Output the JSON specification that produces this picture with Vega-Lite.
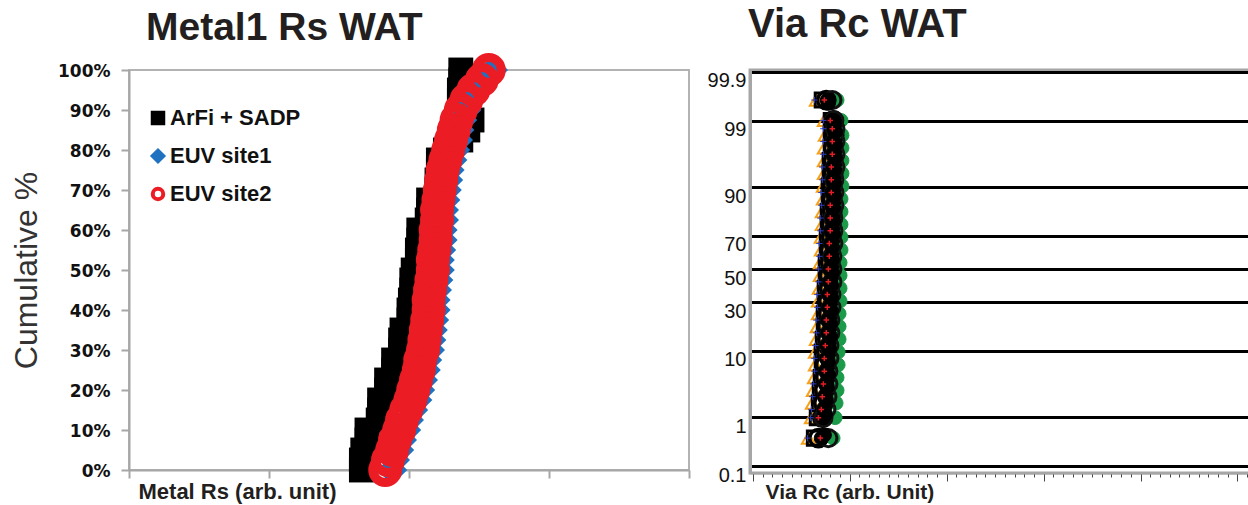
{
"$schema":"https://vega.github.io/schema/vega-lite/v6.json",
"background":"white",
"padding":{"left":9,"top":3,"right":0,"bottom":0},
"bounds":"flush",
"config":{"view":{"stroke":null},"font":"Liberation Sans","concat":{"spacing":61}},
"resolve":{"scale":{"shape":"independent","fill":"independent","stroke":"independent","size":"independent","strokeWidth":"independent","x":"independent","y":"independent"},"legend":{"shape":"independent","fill":"independent","stroke":"independent"}},
"datasets":{
"metal":[
{"s":"ArFi + SADP","y":0,"x":1.66},{"s":"ArFi + SADP","y":2.5,"x":1.66},{"s":"ArFi + SADP","y":5,"x":1.67},{"s":"ArFi + SADP","y":7.5,"x":1.70},{"s":"ArFi + SADP","y":10,"x":1.70},
{"s":"ArFi + SADP","y":12.5,"x":1.78},{"s":"ArFi + SADP","y":15,"x":1.79},{"s":"ArFi + SADP","y":17.5,"x":1.79},{"s":"ArFi + SADP","y":20,"x":1.84},{"s":"ArFi + SADP","y":22.5,"x":1.84},
{"s":"ArFi + SADP","y":25,"x":1.89},{"s":"ArFi + SADP","y":27.5,"x":1.89},{"s":"ArFi + SADP","y":30,"x":1.94},{"s":"ArFi + SADP","y":32.5,"x":1.94},{"s":"ArFi + SADP","y":35,"x":1.95},
{"s":"ArFi + SADP","y":37.5,"x":2.00},{"s":"ArFi + SADP","y":40,"x":2.00},{"s":"ArFi + SADP","y":42.5,"x":2.01},{"s":"ArFi + SADP","y":45,"x":2.02},{"s":"ArFi + SADP","y":47.5,"x":2.02},
{"s":"ArFi + SADP","y":50,"x":2.03},{"s":"ArFi + SADP","y":52.5,"x":2.06},{"s":"ArFi + SADP","y":55,"x":2.06},{"s":"ArFi + SADP","y":57.5,"x":2.07},{"s":"ArFi + SADP","y":60,"x":2.07},
{"s":"ArFi + SADP","y":62.5,"x":2.13},{"s":"ArFi + SADP","y":65,"x":2.14},{"s":"ArFi + SADP","y":67.5,"x":2.14},{"s":"ArFi + SADP","y":70,"x":2.20},{"s":"ArFi + SADP","y":72.5,"x":2.20},
{"s":"ArFi + SADP","y":75,"x":2.21},{"s":"ArFi + SADP","y":77.5,"x":2.21},{"s":"ArFi + SADP","y":80,"x":2.26},{"s":"ArFi + SADP","y":82.5,"x":2.37},{"s":"ArFi + SADP","y":85,"x":2.42},
{"s":"ArFi + SADP","y":87.5,"x":2.45},{"s":"ArFi + SADP","y":90,"x":2.41},{"s":"ArFi + SADP","y":92.5,"x":2.36},{"s":"ArFi + SADP","y":95,"x":2.36},{"s":"ArFi + SADP","y":97.5,"x":2.37},
{"s":"ArFi + SADP","y":100,"x":2.37},
{"s":"EUV site1","y":0,"x":1.88},{"s":"EUV site1","y":2.5,"x":1.90},{"s":"EUV site1","y":5,"x":1.93},{"s":"EUV site1","y":7.5,"x":1.95},{"s":"EUV site1","y":10,"x":1.98},
{"s":"EUV site1","y":12.5,"x":2.00},{"s":"EUV site1","y":15,"x":2.03},{"s":"EUV site1","y":17.5,"x":2.06},{"s":"EUV site1","y":20,"x":2.08},{"s":"EUV site1","y":22.5,"x":2.10},
{"s":"EUV site1","y":25,"x":2.12},{"s":"EUV site1","y":27.5,"x":2.13},{"s":"EUV site1","y":30,"x":2.15},{"s":"EUV site1","y":32.5,"x":2.16},{"s":"EUV site1","y":35,"x":2.17},
{"s":"EUV site1","y":37.5,"x":2.18},{"s":"EUV site1","y":40,"x":2.19},{"s":"EUV site1","y":42.5,"x":2.19},{"s":"EUV site1","y":45,"x":2.20},{"s":"EUV site1","y":47.5,"x":2.21},
{"s":"EUV site1","y":50,"x":2.22},{"s":"EUV site1","y":52.5,"x":2.22},{"s":"EUV site1","y":55,"x":2.23},{"s":"EUV site1","y":57.5,"x":2.24},{"s":"EUV site1","y":60,"x":2.24},
{"s":"EUV site1","y":62.5,"x":2.25},{"s":"EUV site1","y":65,"x":2.25},{"s":"EUV site1","y":67.5,"x":2.26},{"s":"EUV site1","y":70,"x":2.27},{"s":"EUV site1","y":72.5,"x":2.28},
{"s":"EUV site1","y":75,"x":2.29},{"s":"EUV site1","y":77.5,"x":2.31},{"s":"EUV site1","y":80,"x":2.33},{"s":"EUV site1","y":82.5,"x":2.35},{"s":"EUV site1","y":85,"x":2.36},
{"s":"EUV site1","y":87.5,"x":2.38},{"s":"EUV site1","y":90,"x":2.41},{"s":"EUV site1","y":92.5,"x":2.44},{"s":"EUV site1","y":95,"x":2.49},{"s":"EUV site1","y":97.5,"x":2.55},
{"s":"EUV site1","y":100,"x":2.60},
{"s":"EUV site2","y":0,"x":1.83},{"s":"EUV site2","y":2.5,"x":1.85},{"s":"EUV site2","y":5,"x":1.88},{"s":"EUV site2","y":7.5,"x":1.90},{"s":"EUV site2","y":10,"x":1.93},
{"s":"EUV site2","y":12.5,"x":1.95},{"s":"EUV site2","y":15,"x":1.98},{"s":"EUV site2","y":17.5,"x":2.01},{"s":"EUV site2","y":20,"x":2.03},{"s":"EUV site2","y":22.5,"x":2.05},
{"s":"EUV site2","y":25,"x":2.07},{"s":"EUV site2","y":27.5,"x":2.08},{"s":"EUV site2","y":30,"x":2.10},{"s":"EUV site2","y":32.5,"x":2.11},{"s":"EUV site2","y":35,"x":2.12},
{"s":"EUV site2","y":37.5,"x":2.13},{"s":"EUV site2","y":40,"x":2.14},{"s":"EUV site2","y":42.5,"x":2.14},{"s":"EUV site2","y":45,"x":2.15},{"s":"EUV site2","y":47.5,"x":2.16},
{"s":"EUV site2","y":50,"x":2.17},{"s":"EUV site2","y":52.5,"x":2.17},{"s":"EUV site2","y":55,"x":2.18},{"s":"EUV site2","y":57.5,"x":2.19},{"s":"EUV site2","y":60,"x":2.19},
{"s":"EUV site2","y":62.5,"x":2.20},{"s":"EUV site2","y":65,"x":2.20},{"s":"EUV site2","y":67.5,"x":2.21},{"s":"EUV site2","y":70,"x":2.22},{"s":"EUV site2","y":72.5,"x":2.23},
{"s":"EUV site2","y":75,"x":2.24},{"s":"EUV site2","y":77.5,"x":2.26},{"s":"EUV site2","y":80,"x":2.28},{"s":"EUV site2","y":82.5,"x":2.30},{"s":"EUV site2","y":85,"x":2.32},
{"s":"EUV site2","y":87.5,"x":2.34},{"s":"EUV site2","y":90,"x":2.37},{"s":"EUV site2","y":92.5,"x":2.41},{"s":"EUV site2","y":95,"x":2.46},{"s":"EUV site2","y":97.5,"x":2.52},
{"s":"EUV site2","y":100,"x":2.57}
],
"via":[
{"v":"t","z":-2.65,"x":5.73},{"v":"t","z":-2.33,"x":6.04},{"v":"t","z":-2.1,"x":6.14},{"v":"t","z":-1.9,"x":6.24},{"v":"t","z":-1.7,"x":6.35},{"v":"t","z":-1.5,"x":6.45},{"v":"t","z":-1.3,"x":6.45},{"v":"t","z":-1.1,"x":6.55},{"v":"t","z":-0.9,"x":6.65},{"v":"t","z":-0.7,"x":6.76},{"v":"t","z":-0.5,"x":6.76},{"v":"t","z":-0.3,"x":6.86},{"v":"t","z":-0.1,"x":6.96},{"v":"t","z":0.1,"x":6.96},{"v":"t","z":0.3,"x":7.06},{"v":"t","z":0.5,"x":7.06},{"v":"t","z":0.7,"x":7.16},{"v":"t","z":0.9,"x":7.16},{"v":"t","z":1.1,"x":7.27},{"v":"t","z":1.3,"x":7.27},{"v":"t","z":1.5,"x":7.37},{"v":"t","z":1.7,"x":7.37},{"v":"t","z":1.9,"x":7.37},{"v":"t","z":2.1,"x":7.47},{"v":"t","z":2.33,"x":7.37},{"v":"t","z":2.65,"x":6.55},
{"v":"g","z":-2.65,"x":8.28},{"v":"g","z":-2.33,"x":8.49},{"v":"g","z":-2.1,"x":8.59},{"v":"g","z":-1.9,"x":8.69},{"v":"g","z":-1.7,"x":8.69},{"v":"g","z":-1.5,"x":8.80},{"v":"g","z":-1.3,"x":8.80},{"v":"g","z":-1.1,"x":8.90},{"v":"g","z":-0.9,"x":8.90},{"v":"g","z":-0.7,"x":8.90},{"v":"g","z":-0.5,"x":9.00},{"v":"g","z":-0.3,"x":9.00},{"v":"g","z":-0.1,"x":9.00},{"v":"g","z":0.1,"x":9.00},{"v":"g","z":0.3,"x":9.10},{"v":"g","z":0.5,"x":9.10},{"v":"g","z":0.7,"x":9.10},{"v":"g","z":0.9,"x":9.10},{"v":"g","z":1.1,"x":9.10},{"v":"g","z":1.3,"x":9.20},{"v":"g","z":1.5,"x":9.20},{"v":"g","z":1.7,"x":9.20},{"v":"g","z":1.9,"x":9.20},{"v":"g","z":2.1,"x":9.20},{"v":"g","z":2.33,"x":9.10},{"v":"g","z":2.65,"x":8.69},
{"v":"q","z":-2.65,"x":6.35},{"v":"q","z":-2.33,"x":6.65},{"v":"q","z":-2.1,"x":6.86},{"v":"q","z":-1.9,"x":6.96},{"v":"q","z":-1.7,"x":7.06},{"v":"q","z":-1.5,"x":7.16},{"v":"q","z":-1.3,"x":7.16},{"v":"q","z":-1.1,"x":7.27},{"v":"q","z":-0.9,"x":7.37},{"v":"q","z":-0.7,"x":7.37},{"v":"q","z":-0.5,"x":7.47},{"v":"q","z":-0.3,"x":7.47},{"v":"q","z":-0.1,"x":7.57},{"v":"q","z":0.1,"x":7.57},{"v":"q","z":0.3,"x":7.68},{"v":"q","z":0.5,"x":7.68},{"v":"q","z":0.7,"x":7.78},{"v":"q","z":0.9,"x":7.78},{"v":"q","z":1.1,"x":7.88},{"v":"q","z":1.3,"x":7.88},{"v":"q","z":1.5,"x":7.98},{"v":"q","z":1.7,"x":7.98},{"v":"q","z":1.9,"x":8.09},{"v":"q","z":2.1,"x":8.09},{"v":"q","z":2.33,"x":8.09},{"v":"q","z":2.65,"x":7.16},
{"v":"a","z":-2.65,"x":6.76},{"v":"a","z":-2.33,"x":7.16},{"v":"a","z":-2.1,"x":7.27},{"v":"a","z":-1.9,"x":7.37},{"v":"a","z":-1.7,"x":7.47},{"v":"a","z":-1.5,"x":7.47},{"v":"a","z":-1.3,"x":7.57},{"v":"a","z":-1.1,"x":7.68},{"v":"a","z":-0.9,"x":7.68},{"v":"a","z":-0.7,"x":7.78},{"v":"a","z":-0.5,"x":7.78},{"v":"a","z":-0.3,"x":7.88},{"v":"a","z":-0.1,"x":7.88},{"v":"a","z":0.1,"x":7.98},{"v":"a","z":0.3,"x":7.98},{"v":"a","z":0.5,"x":8.09},{"v":"a","z":0.7,"x":8.09},{"v":"a","z":0.9,"x":8.19},{"v":"a","z":1.1,"x":8.19},{"v":"a","z":1.3,"x":8.19},{"v":"a","z":1.5,"x":8.29},{"v":"a","z":1.7,"x":8.29},{"v":"a","z":1.9,"x":8.29},{"v":"a","z":2.1,"x":8.39},{"v":"a","z":2.33,"x":8.29},{"v":"a","z":2.65,"x":7.57},
{"v":"b","z":-2.65,"x":7.78},{"v":"b","z":-2.33,"x":7.27},{"v":"b","z":-2.2,"x":7.57},{"v":"b","z":-2.0,"x":7.68},{"v":"b","z":-1.8,"x":7.78},{"v":"b","z":-1.6,"x":7.78},{"v":"b","z":-1.4,"x":7.88},{"v":"b","z":-1.2,"x":7.88},{"v":"b","z":-1.0,"x":7.98},{"v":"b","z":-0.8,"x":7.98},{"v":"b","z":-0.6,"x":8.09},{"v":"b","z":-0.4,"x":8.09},{"v":"b","z":-0.2,"x":8.19},{"v":"b","z":0,"x":8.19},{"v":"b","z":0.2,"x":8.19},{"v":"b","z":0.4,"x":8.29},{"v":"b","z":0.6,"x":8.29},{"v":"b","z":0.8,"x":8.29},{"v":"b","z":1.0,"x":8.39},{"v":"b","z":1.2,"x":8.39},{"v":"b","z":1.4,"x":8.39},{"v":"b","z":1.6,"x":8.50},{"v":"b","z":1.8,"x":8.50},{"v":"b","z":2.0,"x":8.50},{"v":"b","z":2.2,"x":8.50},{"v":"b","z":2.33,"x":8.39},{"v":"b","z":2.65,"x":8.19},
{"v":"c","z":-2.6,"x":7.37},{"v":"c","z":-2.28,"x":7.47},{"v":"c","z":-2.05,"x":7.57},{"v":"c","z":-1.85,"x":7.68},{"v":"c","z":-1.65,"x":7.78},{"v":"c","z":-1.45,"x":7.78},{"v":"c","z":-1.25,"x":7.88},{"v":"c","z":-1.05,"x":7.98},{"v":"c","z":-0.85,"x":7.98},{"v":"c","z":-0.65,"x":8.09},{"v":"c","z":-0.45,"x":8.09},{"v":"c","z":-0.25,"x":8.09},{"v":"c","z":-0.05,"x":8.19},{"v":"c","z":0.15,"x":8.19},{"v":"c","z":0.35,"x":8.19},{"v":"c","z":0.55,"x":8.29},{"v":"c","z":0.75,"x":8.29},{"v":"c","z":0.95,"x":8.29},{"v":"c","z":1.15,"x":8.39},{"v":"c","z":1.35,"x":8.39},{"v":"c","z":1.55,"x":8.39},{"v":"c","z":1.75,"x":8.50},{"v":"c","z":1.95,"x":8.50},{"v":"c","z":2.15,"x":8.50},{"v":"c","z":2.28,"x":8.39},{"v":"c","z":2.6,"x":7.78},
{"v":"d","z":-2.65,"x":7.06},{"v":"d","z":-2.33,"x":7.27},{"v":"d","z":-2.2,"x":7.37},{"v":"d","z":-2.0,"x":7.47},{"v":"d","z":-1.8,"x":7.57},{"v":"d","z":-1.6,"x":7.57},{"v":"d","z":-1.4,"x":7.68},{"v":"d","z":-1.2,"x":7.68},{"v":"d","z":-1.0,"x":7.78},{"v":"d","z":-0.8,"x":7.78},{"v":"d","z":-0.6,"x":7.88},{"v":"d","z":-0.4,"x":7.88},{"v":"d","z":-0.2,"x":7.98},{"v":"d","z":0,"x":7.98},{"v":"d","z":0.2,"x":8.09},{"v":"d","z":0.4,"x":8.09},{"v":"d","z":0.6,"x":8.09},{"v":"d","z":0.8,"x":8.19},{"v":"d","z":1.0,"x":8.19},{"v":"d","z":1.2,"x":8.19},{"v":"d","z":1.4,"x":8.29},{"v":"d","z":1.6,"x":8.29},{"v":"d","z":1.8,"x":8.29},{"v":"d","z":2.0,"x":8.29},{"v":"d","z":2.2,"x":8.39},{"v":"d","z":2.33,"x":8.19},{"v":"d","z":2.65,"x":7.68},
{"v":"p","z":-2.65,"x":5.63},{"v":"p","z":-2.33,"x":5.94},{"v":"p","z":-2.2,"x":6.04},{"v":"p","z":-2.0,"x":6.14},{"v":"p","z":-1.8,"x":6.24},{"v":"p","z":-1.6,"x":6.35},{"v":"p","z":-1.4,"x":6.35},{"v":"p","z":-1.2,"x":6.45},{"v":"p","z":-1.0,"x":6.55},{"v":"p","z":-0.8,"x":6.55},{"v":"p","z":-0.6,"x":6.65},{"v":"p","z":-0.4,"x":6.65},{"v":"p","z":-0.2,"x":6.76},{"v":"p","z":0,"x":6.76},{"v":"p","z":0.2,"x":6.86},{"v":"p","z":0.4,"x":6.86},{"v":"p","z":0.6,"x":6.96},{"v":"p","z":0.8,"x":6.96},{"v":"p","z":1.0,"x":7.06},{"v":"p","z":1.2,"x":7.06},{"v":"p","z":1.4,"x":7.16},{"v":"p","z":1.6,"x":7.16},{"v":"p","z":1.8,"x":7.27},{"v":"p","z":2.0,"x":7.27},{"v":"p","z":2.2,"x":7.27},{"v":"p","z":2.33,"x":7.27},{"v":"p","z":2.65,"x":6.35},
{"v":"r","z":-2.65,"x":6.96},{"v":"r","z":-2.33,"x":6.76},{"v":"r","z":-2.2,"x":7.06},{"v":"r","z":-2.0,"x":7.16},{"v":"r","z":-1.8,"x":7.27},{"v":"r","z":-1.6,"x":7.37},{"v":"r","z":-1.4,"x":7.37},{"v":"r","z":-1.2,"x":7.47},{"v":"r","z":-1.0,"x":7.57},{"v":"r","z":-0.8,"x":7.57},{"v":"r","z":-0.6,"x":7.68},{"v":"r","z":-0.4,"x":7.68},{"v":"r","z":-0.2,"x":7.78},{"v":"r","z":0,"x":7.78},{"v":"r","z":0.2,"x":7.88},{"v":"r","z":0.4,"x":7.88},{"v":"r","z":0.6,"x":7.98},{"v":"r","z":0.8,"x":7.98},{"v":"r","z":1.0,"x":7.98},{"v":"r","z":1.2,"x":8.09},{"v":"r","z":1.4,"x":8.09},{"v":"r","z":1.6,"x":8.09},{"v":"r","z":1.8,"x":8.19},{"v":"r","z":2.0,"x":8.19},{"v":"r","z":2.2,"x":8.19},{"v":"r","z":2.33,"x":7.98},{"v":"r","z":2.65,"x":7.37}
]
},
"hconcat":[
{
"width":560,"height":400,
"title":{"text":"Metal1 Rs WAT","anchor":"start","frame":"group","dx":17,"offset":-39,"baseline":"alphabetic","font":"Liberation Sans","fontSize":39,"fontWeight":"bold","color":"#231f20"},
"data":{"name":"metal"},
"view":{"stroke":"#b3b3b3","strokeWidth":2},
"mark":{"type":"point","opacity":1},
"encoding":{
"x":{"field":"x","type":"quantitative","scale":{"domain":[0,4],"nice":false,"zero":false},
"axis":{"values":[0,1,2,3,4],"labels":false,"grid":false,"domainColor":"#a6a6a6","domainWidth":2,"tickColor":"#a6a6a6","tickWidth":2,"tickSize":8,
"title":"Metal Rs (arb. unit)","titleFont":"Liberation Sans","titleFontSize":22,"titleFontWeight":"bold","titleColor":"#231f20","titleAnchor":"start","titleAlign":"left","titleBaseline":"top","titleX":9,"titleY":11}},
"y":{"field":"y","type":"quantitative","scale":{"domain":[0,100],"nice":false},
"axis":{"values":[0,10,20,30,40,50,60,70,80,90,100],"labelExpr":"datum.value + '%'","grid":false,"domainColor":"#a6a6a6","domainWidth":2,"tickColor":"#a6a6a6","tickWidth":2,"tickSize":8,
"labelFont":"DejaVu Sans","labelFontWeight":"bold","labelFontSize":17,"labelColor":"#111111","labelPadding":11,"labelOffset":1,
"title":"Cumulative %","titleFont":"Liberation Sans","titleFontSize":32,"titleFontWeight":"normal","titleColor":"#333333","titlePadding":14}},
"shape":{"field":"s","type":"nominal","scale":{"domain":["ArFi + SADP","EUV site1","EUV site2"],"range":["square","diamond","circle"]},
"legend":{"title":null,"orient":"none","legendX":18,"legendY":37,"labelFont":"Liberation Sans","labelFontWeight":"bold","labelFontSize":22,"labelColor":"#111111","symbolSize":110,"symbolStrokeWidth":4,"rowPadding":10,"labelOffset":1,"padding":0}},
"fill":{"field":"s","type":"nominal","scale":{"domain":["ArFi + SADP","EUV site1","EUV site2"],"range":["#000000","#1f72c0","transparent"]},
"legend":{"title":null,"orient":"none","legendX":18,"legendY":37,"labelFont":"Liberation Sans","labelFontWeight":"bold","labelFontSize":22,"labelColor":"#111111","symbolSize":110,"symbolStrokeWidth":4,"rowPadding":10,"labelOffset":1,"padding":0}},
"stroke":{"field":"s","type":"nominal","scale":{"domain":["ArFi + SADP","EUV site1","EUV site2"],"range":["#000000","#1f72c0","#ec1c24"]},
"legend":{"title":null,"orient":"none","legendX":18,"legendY":37,"labelFont":"Liberation Sans","labelFontWeight":"bold","labelFontSize":22,"labelColor":"#111111","symbolSize":110,"symbolStrokeWidth":4,"rowPadding":10,"labelOffset":1,"padding":0}},
"size":{"condition":{"test":"datum.s === 'EUV site1'","value":900},"value":620},
"strokeWidth":{"condition":{"test":"datum.s === 'EUV site2'","value":9},"value":0}
}
},
{
"width":500,"height":403,
"title":{"text":"Via Rc WAT","anchor":"start","frame":"group","dx":-2,"offset":-7,"baseline":"alphabetic","font":"Liberation Sans","fontSize":40,"fontWeight":"bold","color":"#231f20"},
"data":{"name":"via"},
"view":{"stroke":"#a6a6a6","strokeWidth":3},
"mark":{"type":"point","opacity":1},
"encoding":{
"x":{"field":"x","type":"quantitative","scale":{"domain":[-0.3,51.3],"nice":false,"zero":false},
"axis":{"values":[0,1,2,3,4,5,6,7,8,9,10,11,12,13,14,15,16,17,18,19,20,21,22,23,24,25,26,27,28,29,30,31,32,33,34,35,36,37,38,39,40,41,42,43,44,45,46,47,48,49,50,51],
"labels":false,"grid":false,"domainColor":"#a6a6a6","domainWidth":2,"tickColor":"#444444","tickWidth":1,"tickSize":{"condition":{"test":"datum.value % 10 === 0","value":8},"value":4},
"title":"Via Rc (arb. Unit)","titleFont":"Liberation Sans","titleFontSize":21,"titleFontWeight":"bold","titleColor":"#231f20","titleAnchor":"start","titleAlign":"left","titleBaseline":"top","titleX":15,"titleY":8}},
"y":{"field":"z","type":"quantitative","scale":{"domain":[-3.197,3.121],"nice":false,"zero":false},
"axis":{"values":[-3.09,-2.326,-1.282,-0.524,0,0.524,1.282,2.326,3.09],
"labelExpr":"datum.value < -3 ? '0.1' : datum.value < -2 ? '1' : datum.value < -1 ? '10' : datum.value < -0.3 ? '30' : datum.value < 0.3 ? '50' : datum.value < 1 ? '70' : datum.value < 2 ? '90' : datum.value < 3 ? '99' : '99.9'",
"grid":true,"gridColor":"#000000","gridWidth":3,"ticks":false,"domainColor":"#a6a6a6","domainWidth":3,
"labelFont":"Liberation Sans","labelFontSize":20,"labelColor":"#111111","labelPadding":4,"labelBaseline":"middle","labelOffset":9,"title":null}},
"shape":{"field":"v","type":"nominal","scale":{"domain":["t","g","q","a","b","c","d","p","r"],"range":["triangle-up","circle","square","circle","circle","circle","circle","M-1,0L1,0M0,-1L0,1","M-1,0L1,0M0,-1L0,1"]},"legend":null},
"fill":{"field":"v","type":"nominal","scale":{"domain":["t","g","q","a","b","c","d","p","r"],"range":["transparent","#1b9a4a","transparent","transparent","transparent","#000000","#000000","transparent","transparent"]},"legend":null},
"stroke":{"field":"v","type":"nominal","scale":{"domain":["t","g","q","a","b","c","d","p","r"],"range":["#f7a11a","#1b9a4a","#000000","#000000","#111111","#000000","#000000","#2e3fbf","#e31e24"]},"legend":null},
"size":{"field":"v","type":"nominal","scale":{"type":"ordinal","domain":["t","g","q","a","b","c","d","p","r"],"range":[170,190,200,300,300,200,200,40,30]},"legend":null},
"strokeWidth":{"field":"v","type":"nominal","scale":{"type":"ordinal","domain":["t","g","q","a","b","c","d","p","r"],"range":[2,1,3,3.5,3,1,1,1,1.5]},"legend":null}
}
}
]
}
